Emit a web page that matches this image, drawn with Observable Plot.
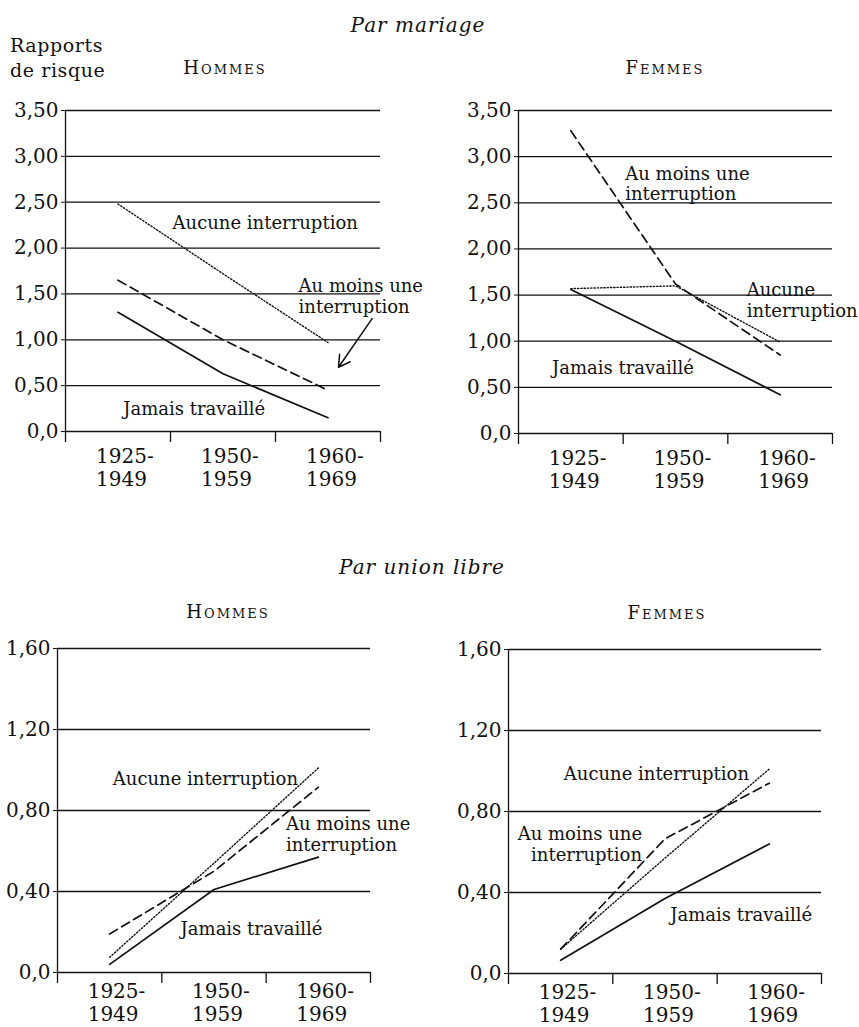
<!DOCTYPE html>
<html>
<head>
<meta charset="utf-8">
<script src="https://cdn.jsdelivr.net/npm/d3@7"></script>
<script src="https://cdn.jsdelivr.net/npm/@observablehq/plot@0.6"></script>
<style>
  html, body { margin: 0; padding: 0; background: #fff; }
  #root { position: relative; width: 859px; height: 1027px; overflow: hidden; background: #fff; font-family: "DejaVu Serif", serif; color: #111; }
  .lbl { position: absolute; white-space: nowrap; transform: translate(-50%, -50%); line-height: 1; }
  .sc { font-variant: small-caps; font-size: 18px; letter-spacing: 2px; }
  .it { font-style: italic; font-size: 20px; letter-spacing: 1px; }
  .panel { position: absolute; }
</style>
</head>
<body>
<div id="root"></div>
<script>
// ---------- Data ----------
const periods = ["1925-\n1949", "1950-\n1959", "1960-\n1969"];
const ticksMariage = [0, 0.5, 1, 1.5, 2, 2.5, 3, 3.5];
const ticksUnion = [0, 0.4, 0.8, 1.2, 1.6];

// Par mariage — Hommes
const marHomJamais  = [1.30, 0.63, 0.15];
const marHomAucune  = [2.48, 1.72, 0.97];
const marHomAuMoins = [1.65, 1.00, 0.45];
// Par mariage — Femmes
const marFemJamais  = [1.56, 1.00, 0.42];
const marFemAucune  = [1.57, 1.60, 0.99];
const marFemAuMoins = [3.28, 1.62, 0.85];
// Par union libre — Hommes
const uniHomJamais  = [0.04, 0.41, 0.57];
const uniHomAucune  = [0.075, 0.54, 1.01];
const uniHomAuMoins = [0.19, 0.50, 0.915];
// Par union libre — Femmes
const uniFemJamais  = [0.065, 0.37, 0.64];
const uniFemAucune  = [0.12, 0.57, 1.01];
const uniFemAuMoins = [0.12, 0.665, 0.94];

const fmt = v => v === 0 ? "0,0" : v.toFixed(2).replace(".", ",");

function series(values) {
  return values.map((v, i) => ({period: periods[i], idx: i, value: v}));
}

function panel(cfg) {
  const marks = [
    Plot.ruleY(cfg.ticks, {stroke: "#111", strokeWidth: 1.3}),
    Plot.ruleX([0], {y1: 0, y2: cfg.yMax, stroke: "#111", strokeWidth: 1.3}),
    Plot.axisX({ticks: [0, 1, 2, 3], tickSize: 11, tickFormat: () => "", label: null, strokeWidth: 1.3, stroke: "#111"}),
    Plot.axisY({ticks: cfg.ticks, tickSize: 4, tickPadding: 3, tickFormat: fmt, label: null, fontSize: 20, stroke: "#111", fill: "#111"}),
    Plot.text(periods, {x: (d, i) => i + 0.5, y: 0, dy: cfg.labelDy, dx: -22, textAnchor: "start", lineAnchor: "top", lineHeight: 1.15, fontSize: 20, fill: "#111"}),
    Plot.line(series(cfg.jamais), {x: d => d.idx + 0.5, y: "value", stroke: "#111", strokeWidth: 1.7}),
    Plot.line(series(cfg.auMoins), {x: d => d.idx + 0.5, y: "value", stroke: "#111", strokeWidth: 1.7, strokeDasharray: "9,5"}),
    Plot.line(series(cfg.aucune), {x: d => d.idx + 0.5, y: "value", stroke: "#111", strokeWidth: 1.4, strokeDasharray: "1.3,2"}),
  ];
  for (const l of cfg.labels) {
    marks.push(Plot.text([l.text], {x: l.x, y: l.y, text: d => d, textAnchor: l.anchor || "start", lineAnchor: "middle", lineHeight: 1.15, fontSize: 18, fill: "#111"}));
  }
  if (cfg.arrow) {
    marks.push(Plot.arrow([cfg.arrow], {x1: "x1", y1: "y1", x2: "x2", y2: "y2", stroke: "#111", strokeWidth: 1.5, headLength: 13}));
  }
  const svg = Plot.plot({
    width: cfg.width, height: cfg.height,
    marginTop: cfg.m[0], marginRight: cfg.m[1], marginBottom: cfg.m[2], marginLeft: cfg.m[3],
    x: {domain: [0, 3], axis: null},
    y: {domain: [0, cfg.yMax], axis: null},
    style: {fontFamily: "DejaVu Serif, serif", fontSize: "20px", background: "transparent", overflow: "visible", color: "#111"},
    marks
  });
  svg.classList.add("panel");
  svg.style.left = cfg.left + "px";
  svg.style.top = cfg.top + "px";
  return svg;
}

const root = document.getElementById("root");

root.appendChild(panel({
  left: 0, top: 90, width: 430, height: 420, m: [20, 50, 79, 65], yMax: 3.5, ticks: ticksMariage, labelDy: 15,
  jamais: marHomJamais, aucune: marHomAucune, auMoins: marHomAuMoins,
  labels: [
    {text: "Aucune interruption", x: 1.02, y: 2.28},
    {text: "Au moins une\ninterruption", x: 2.22, y: 1.48},
    {text: "Jamais travaillé", x: 0.55, y: 0.25}
  ],
  arrow: {x1: 2.92, y1: 1.23, x2: 2.6, y2: 0.70}
}));
root.appendChild(panel({
  left: 430, top: 90, width: 429, height: 420, m: [20, 27, 77, 88], yMax: 3.5, ticks: ticksMariage, labelDy: 15,
  jamais: marFemJamais, aucune: marFemAucune, auMoins: marFemAuMoins,
  labels: [
    {text: "Au moins une\ninterruption", x: 1.02, y: 2.71},
    {text: "Aucune\ninterruption", x: 2.18, y: 1.45},
    {text: "Jamais travaillé", x: 0.32, y: 0.72}
  ]
}));
root.appendChild(panel({
  left: 0, top: 590, width: 430, height: 437, m: [58, 60, 55, 57], yMax: 1.6, ticks: ticksUnion, labelDy: 9,
  jamais: uniHomJamais, aucune: uniHomAucune, auMoins: uniHomAuMoins,
  labels: [
    {text: "Aucune interruption", x: 0.53, y: 0.96},
    {text: "Au moins une\ninterruption", x: 2.19, y: 0.684},
    {text: "Jamais travaillé", x: 1.18, y: 0.22}
  ]
}));
root.appendChild(panel({
  left: 430, top: 590, width: 429, height: 437, m: [59, 38, 54, 78], yMax: 1.6, ticks: ticksUnion, labelDy: 9,
  jamais: uniFemJamais, aucune: uniFemAucune, auMoins: uniFemAuMoins,
  labels: [
    {text: "Aucune interruption", x: 0.53, y: 0.99},
    {text: "Au moins une\ninterruption", x: 1.28, y: 0.64, anchor: "end"},
    {text: "Jamais travaillé", x: 1.55, y: 0.29}
  ]
}));

function addLabel(text, x, y, cls, extra) {
  const d = document.createElement("div");
  d.className = "lbl " + (cls || "");
  d.textContent = text;
  d.style.left = x + "px";
  d.style.top = y + "px";
  if (extra) Object.assign(d.style, extra);
  root.appendChild(d);
}
addLabel("Par mariage", 418, 25, "it");
addLabel("Par union libre", 422, 567, "it");
addLabel("Hommes", 225, 68, "sc");
addLabel("Femmes", 665, 68, "sc");
addLabel("Hommes", 228, 612, "sc");
addLabel("Femmes", 667, 613, "sc");
addLabel("Rapports", 10, 45, "", {transform: "translate(0,-50%)", fontSize: "19px", letterSpacing: "0.6px"});
addLabel("de risque", 10, 70, "", {transform: "translate(0,-50%)", fontSize: "19px", letterSpacing: "0.6px"});
</script>
</body>
</html>
